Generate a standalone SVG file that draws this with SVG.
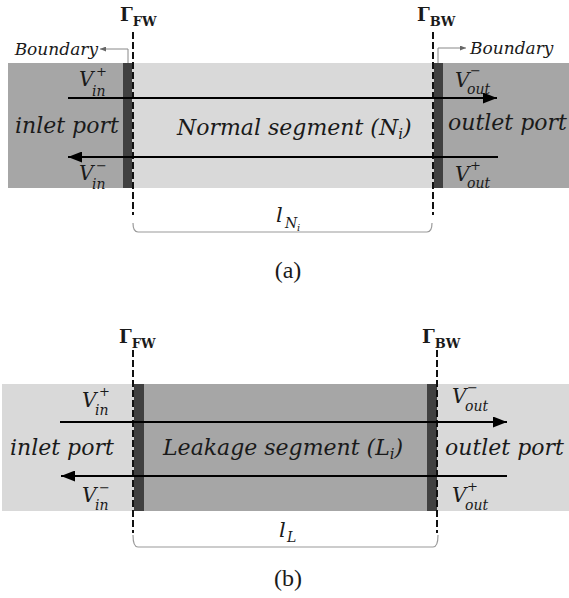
<svg xmlns="http://www.w3.org/2000/svg" width="569" height="598" viewBox="0 0 569 598">
<style>
.m{font-family:"DejaVu Serif",serif;font-style:italic;fill:#1a1a1a}
.g{font-family:"DejaVu Serif",serif;font-weight:bold;fill:#1a1a1a}
.cap{font-family:"Liberation Serif",serif;font-size:24px;fill:#1a1a1a}
.dash{stroke:#111;stroke-width:2;stroke-dasharray:7,3;fill:none}
.flow{stroke:#000;stroke-width:2;fill:none}
.brace{stroke:#999;stroke-width:1.2;fill:none}
.bnd{stroke:#888;stroke-width:1;fill:none}
.bar{fill:#404040}
.dk{fill:#a6a6a6}
.lt{fill:#d9d9d9}
.sp{font-size:13px}
.sb{font-size:14px}
</style>
<defs>
<marker id="ah" markerUnits="userSpaceOnUse" markerWidth="14" markerHeight="11" refX="14" refY="5.5" orient="auto">
<path d="M0,0 L14,5.5 L0,11 z" fill="#000"/>
</marker>
<marker id="sa" markerUnits="userSpaceOnUse" markerWidth="6" markerHeight="5" refX="6" refY="2.5" orient="auto">
<path d="M0,0 L6,2.5 L0,5 z" fill="#666"/>
</marker>
</defs>

<!-- Panel (a) -->
<g id="a-inlet"><rect class="dk" x="8" y="63" width="115" height="125"/>
<text class="m" x="15" y="133" font-size="22">inlet port</text></g>
<g id="a-segment"><rect class="lt" x="132" y="63" width="302" height="125"/>
<text class="m" x="177" y="135" font-size="22">Normal segment (<tspan>N</tspan><tspan font-size="15" dy="4">i</tspan><tspan dy="-4">)</tspan></text></g>
<g id="a-outlet"><rect class="dk" x="443" y="63" width="126" height="125"/>
<text class="m" x="448" y="130" font-size="22">outlet port</text></g>
<g id="a-bars"><rect class="bar" x="123" y="63" width="9" height="125"/><rect class="bar" x="434" y="63" width="9" height="125"/></g>

<g id="a-labels">
<text class="g" x="120" y="21" font-size="18">Γ<tspan font-size="13" dy="5">FW</tspan></text>
<text class="g" x="417" y="21" font-size="18">Γ<tspan font-size="13" dy="5">BW</tspan></text>
<text class="m" x="98" y="55" font-size="17" text-anchor="end">Boundary</text>
<text class="m" x="470" y="54" font-size="17">Boundary</text>
<text class="m" font-size="20"><tspan x="79" y="86">V</tspan><tspan class="sp" x="96" y="76">+</tspan><tspan class="sb" x="92" y="96">in</tspan></text>
<text class="m" font-size="20"><tspan x="79" y="180">V</tspan><tspan class="sp" x="96" y="170">−</tspan><tspan class="sb" x="92" y="189">in</tspan></text>
<text class="m" font-size="20"><tspan x="455" y="87">V</tspan><tspan class="sp" x="470" y="75">−</tspan><tspan class="sb" x="467" y="94">out</tspan></text>
<text class="m" font-size="20"><tspan x="455" y="181">V</tspan><tspan class="sp" x="470" y="170">+</tspan><tspan class="sb" x="467" y="188">out</tspan></text>
<text class="m" font-size="21"><tspan x="276" y="222">l</tspan><tspan x="285" y="228" font-size="14">N</tspan><tspan x="297" y="231" font-size="10">i</tspan></text>
<text class="cap" x="288" y="278" text-anchor="middle">(a)</text>
</g>

<!-- Panel (b) -->
<g id="b-inlet"><rect class="lt" x="2" y="384" width="132" height="127"/>
<text class="m" x="10" y="455" font-size="22">inlet port</text></g>
<g id="b-segment"><rect class="dk" x="144" y="384" width="283" height="127"/>
<text class="m" x="163" y="455" font-size="22">Leakage segment (<tspan>L</tspan><tspan font-size="15" dy="4">i</tspan><tspan dy="-4">)</tspan></text></g>
<g id="b-outlet"><rect class="lt" x="437" y="384" width="132" height="127"/>
<text class="m" x="445" y="455" font-size="22">outlet port</text></g>
<g id="b-bars"><rect class="bar" x="134" y="384" width="10" height="127"/><rect class="bar" x="427" y="384" width="10" height="127"/></g>

<g id="b-labels">
<text class="g" x="119" y="343" font-size="18">Γ<tspan font-size="13" dy="5">FW</tspan></text>
<text class="g" x="422" y="343" font-size="18">Γ<tspan font-size="13" dy="5">BW</tspan></text>
<text class="m" font-size="20"><tspan x="82" y="407">V</tspan><tspan class="sp" x="99" y="396">+</tspan><tspan class="sb" x="95" y="415">in</tspan></text>
<text class="m" font-size="20"><tspan x="82" y="502">V</tspan><tspan class="sp" x="99" y="492">−</tspan><tspan class="sb" x="95" y="510">in</tspan></text>
<text class="m" font-size="20"><tspan x="452" y="403">V</tspan><tspan class="sp" x="467" y="392">−</tspan><tspan class="sb" x="465" y="411">out</tspan></text>
<text class="m" font-size="20"><tspan x="452" y="502">V</tspan><tspan class="sp" x="467" y="491">+</tspan><tspan class="sb" x="465" y="510">out</tspan></text>
<text class="m" font-size="21"><tspan x="279" y="537">l</tspan><tspan x="287" y="542" font-size="14">L</tspan></text>
<text class="cap" x="288" y="586" text-anchor="middle">(b)</text>
</g>

<g id="connectors">
<line class="dash" x1="133" y1="32" x2="133" y2="215"/>
<line class="dash" x1="433" y1="32" x2="433" y2="215"/>
<line class="flow" x1="68" y1="98" x2="497" y2="98" marker-end="url(#ah)"/>
<line class="flow" x1="498" y1="157" x2="68" y2="157" marker-end="url(#ah)"/>
<path class="bnd" d="M128,63 V49 H100" marker-end="url(#sa)"/>
<path class="bnd" d="M438,63 V48 H466" marker-end="url(#sa)"/>
<path class="brace" d="M133,223 Q133,232 138,232 H427 Q432,232 432,223"/>

<line class="dash" x1="133" y1="350" x2="133" y2="533"/>
<line class="dash" x1="437" y1="350" x2="437" y2="533"/>
<line class="flow" x1="60" y1="422" x2="507" y2="422" marker-end="url(#ah)"/>
<line class="flow" x1="507" y1="476" x2="61" y2="476" marker-end="url(#ah)"/>
<path class="brace" d="M133,535 Q133,547 138,547 H433 Q438,547 438,535"/>
</g>
</svg>
